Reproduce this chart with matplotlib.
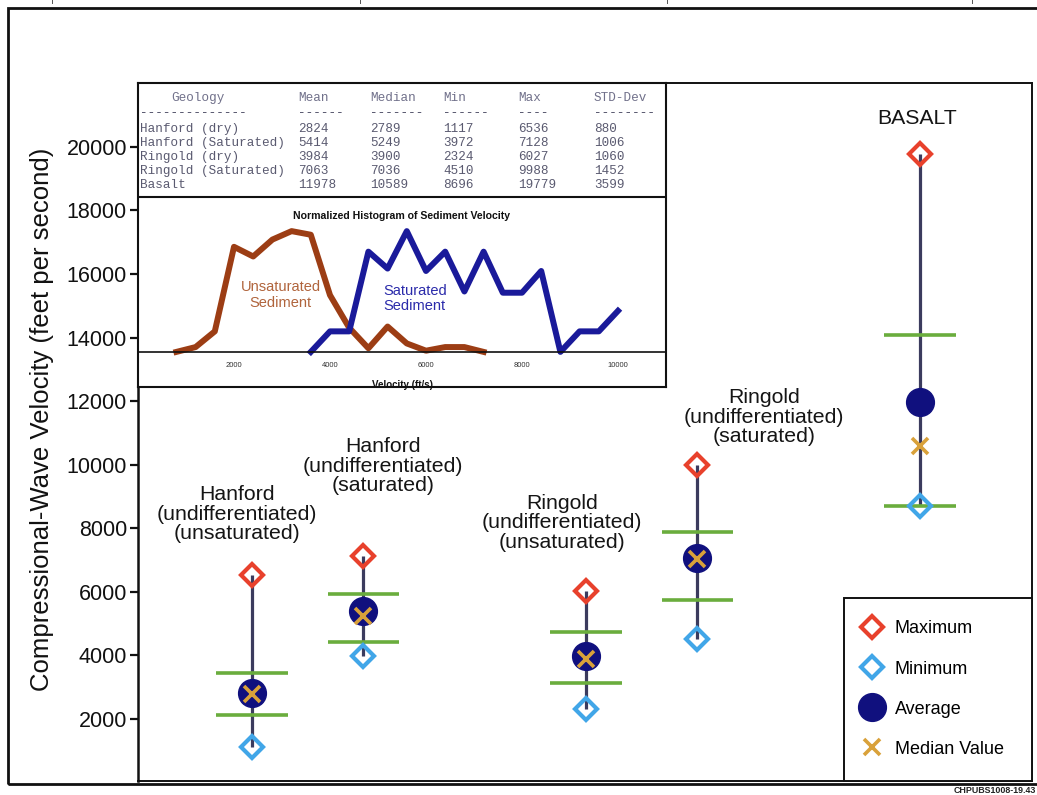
import matplotlib
matplotlib.use("Agg")
import matplotlib.pyplot as plt
from matplotlib.patches import Rectangle
from matplotlib.lines import Line2D

plt.rcParams['font.family'] = ['Liberation Sans', 'DejaVu Sans']

# ---------------------------------------------------------------- data
unit_labels = [
    "Hanford\n(undifferentiated)\n(unsaturated)",
    "Hanford\n(undifferentiated)\n(saturated)",
    "Ringold\n(undifferentiated)\n(unsaturated)",
    "Ringold\n(undifferentiated)\n(saturated)",
    "BASALT",
]
table_geology = ["Hanford (dry)", "Hanford (Saturated)", "Ringold (dry)",
                 "Ringold (Saturated)", "Basalt"]
vel_mean = [2824, 5414, 3984, 7063, 11978]
vel_median = [2789, 5249, 3900, 7036, 10589]
vel_min = [1117, 3972, 2324, 4510, 8696]
vel_max = [6536, 7128, 6027, 9988, 19779]
vel_std = [880, 1006, 1060, 1452, 3599]
# quartile bars (green)
q_upper = [3460, 5920, 4740, 7890, 14080]
q_lower = [2130, 4420, 3140, 5750, 8710]

y_ticks = [2000, 4000, 6000, 8000, 10000, 12000, 14000, 16000, 18000, 20000]

# normalized histogram of sediment velocity (400 ft/s bins)
hist_v_unsat = [800, 1200, 1600, 2000, 2400, 2800, 3200, 3600, 4000,
                4400, 4800, 5200, 5600, 6000, 6400, 6800, 7200]
hist_f_unsat = [0.00, 0.04, 0.17, 0.87, 0.79, 0.93, 1.00, 0.97, 0.47,
                0.20, 0.03, 0.21, 0.07, 0.01, 0.04, 0.04, 0.00]
hist_v_sat = [3600, 4000, 4400, 4800, 5200, 5600, 6000, 6400, 6800,
              7200, 7600, 8000, 8400, 8800, 9200, 9600, 10000]
hist_f_sat = [0.00, 0.17, 0.17, 0.83, 0.69, 1.00, 0.67, 0.83, 0.50,
              0.83, 0.49, 0.49, 0.67, 0.00, 0.17, 0.17, 0.34]
hist_ticks = [2000, 4000, 6000, 8000, 10000]

# ---------------------------------------------------------------- layout
W, H = 1037, 795
positions = [1, 2, 4, 5, 7]
label_xy = [(0.863, 8450), (2.174, 9960), (3.784, 8170), (5.602, 11500), (6.97, 20900)]

C_MAX = "#e8412c"
C_MIN = "#41a6e8"
C_AVG = "#10107e"
C_MED = "#d9a13a"
C_RNG = "#3b3b5e"
C_GRN = "#6aad3d"


def fx(x):
    return x / W


def fy(y):
    return 1 - y / H


fig = plt.figure(figsize=(W / 100, H / 100), dpi=100)
fig.patch.set_facecolor("white")

# outer frame
fig.add_artist(Rectangle((fx(8), fy(784)), 1.05, (784 - 8) / H, fill=False,
                         lw=2.0, ec="#111111", transform=fig.transFigure))
for xm in [52, 360, 667, 972]:
    fig.add_artist(Line2D([fx(xm), fx(xm)], [fy(0), fy(3)], color="#555555",
                          lw=0.7, transform=fig.transFigure))

# ---------------------------------------------------------------- main axes
L, R, T, B = 138, 1032, 82.7, 780.7
ax = fig.add_axes([fx(L), fy(B), (R - L) / W, (B - T) / H])
ax.set_xlim(-0.024, 8.006)
ax.set_ylim(60, 22020)
for s in ax.spines.values():
    s.set_linewidth(1.4)
    s.set_color("#111111")
ax.spines["left"].set_linewidth(1.8)
ax.set_xticks([])
ax.set_yticks(y_ticks)
ax.set_yticklabels([str(v) for v in y_ticks])
ax.tick_params(axis="y", length=6, width=1.6, pad=2, labelsize=15.5, colors="#111111")
ax.set_ylabel("Compressional-Wave Velocity (feet per second)", fontsize=18.5,
              color="#111111", va="center")
ax.yaxis.set_label_coords(-0.107, 0.518)

ax.vlines(positions, vel_min, vel_max, color=C_RNG, lw=2.3, zorder=2)
for p, lo, hi in zip(positions, q_lower, q_upper):
    ax.hlines([lo, hi], p - 0.32, p + 0.32, color=C_GRN, lw=2.6, zorder=3)
h_max, = ax.plot(positions, vel_max, ls="none", marker="D", ms=11, mfc="none",
                 mec=C_MAX, mew=3, zorder=4)
h_min, = ax.plot(positions, vel_min, ls="none", marker="D", ms=11, mfc="none",
                 mec=C_MIN, mew=3, zorder=4)
h_avg, = ax.plot(positions, vel_mean, ls="none", marker="o", ms=20, mfc=C_AVG,
                 mec=C_AVG, zorder=5)
h_med, = ax.plot(positions, vel_median, ls="none", marker="x", ms=11, mec=C_MED,
                 mew=2.6, zorder=6)

for txt, (lx, ly) in zip(unit_labels, label_xy):
    ax.text(lx, ly, txt, ha="center", va="center", fontsize=15.3,
            linespacing=1.05, color="#151515")

leg_x0 = (844 - L) / (R - L)
leg = ax.legend([h_max, h_min, h_avg, h_med],
                ["Maximum", "Minimum", "Average", "Median Value"],
                loc="lower left", bbox_to_anchor=(leg_x0, 0, 1 - leg_x0, 0.5),
                mode="expand", borderaxespad=0,
                fontsize=13, frameon=True, fancybox=False, framealpha=1,
                edgecolor="#111111", borderpad=1.27, labelspacing=1.28,
                handlelength=0.55, handletextpad=1.0, markerscale=1.0)
leg.get_frame().set_linewidth(1.4)

# ---------------------------------------------------------------- inset box with table
IL, IR, IT, IB = 138, 666, 82.7, 387
ax_box = fig.add_axes([fx(IL), fy(IB), (IR - IL) / W, (IB - IT) / H])
ax_box.set_xlim(0, IR - IL)
ax_box.set_ylim(IB - IT, 0)
ax_box.set_xticks([])
ax_box.set_yticks([])
for s in ax_box.spines.values():
    s.set_linewidth(1.5)
    s.set_color("#111111")
ax_box.axhline(197.3 - IT, color="#111111", lw=1.5)

mono = dict(family=["Liberation Mono", "DejaVu Sans Mono"], fontsize=9.1, va="center")
col_x = [2, 160, 232, 305, 380, 456]
header = ["Geology", "Mean", "Median", "Min", "Max", "STD-Dev"]
dashes = ["--------------", "------", "-------", "------", "----", "--------"]
row_y = [15.2, 30.7, 46.3, 60.4, 73.9, 88.0, 101.8]
ax_box.text(33, row_y[0], header[0], color="#70708a", **mono)
for cx, hd in zip(col_x[1:], header[1:]):
    ax_box.text(cx, row_y[0], hd, color="#70708a", **mono)
for cx, d in zip(col_x, dashes):
    ax_box.text(cx, row_y[1], d, color="#40405a", **mono)
for i, name in enumerate(table_geology):
    vals = [name, vel_mean[i], vel_median[i], vel_min[i], vel_max[i], vel_std[i]]
    for cx, v in zip(col_x, vals):
        ax_box.text(cx, row_y[i + 2], str(v), color="#5a5a70", **mono)

# ---------------------------------------------------------------- histogram
HB = 351.9
ax_h = fig.add_axes([fx(IL), fy(HB), (IR - IL) / W, (HB - 197.3) / H])
ax_h.set_facecolor("none")
ax_h.set_xlim(0, 11000)
ax_h.set_ylim(0, 1.28)
for side in ["left", "right", "top"]:
    ax_h.spines[side].set_visible(False)
ax_h.spines["bottom"].set_linewidth(1.2)
ax_h.spines["bottom"].set_color("#111111")
ax_h.set_yticks([])
ax_h.set_xticks(hist_ticks)
ax_h.set_xticklabels([str(t) for t in hist_ticks])
ax_h.tick_params(axis="x", length=0, pad=7.5, labelsize=5.5, colors="#333333")
ax_h.plot(hist_v_unsat, hist_f_unsat, color="#9c3d14", lw=4.3, clip_on=False)
ax_h.plot(hist_v_sat, hist_f_sat, color="#1a1a9a", lw=4.3, clip_on=False)
ax_h.set_title("Normalized Histogram of Sediment Velocity", fontsize=7.6,
               fontweight="bold", y=0.876, va="center", pad=0, color="#111111")
ax_h.set_xlabel("Velocity (ft/s)", fontsize=7, fontweight="bold", va="center",
                color="#111111")
ax_h.xaxis.set_label_coords(0.5, -0.212)
ax_h.text(2970, 0.471, "Unsaturated\nSediment", ha="center", va="center",
          fontsize=10.5, color="#b0643c", linespacing=1.1)
ax_h.text(5767, 0.443, "Saturated\nSediment", ha="center", va="center",
          fontsize=10.5, color="#2a2aaa", linespacing=1.1)

fig.text(fx(1036), fy(790.5), "CHPUBS1008-19.43", ha="right", va="center",
         fontsize=6.4, fontweight="bold", color="#222222")

fig.savefig("out.png", dpi=100)
